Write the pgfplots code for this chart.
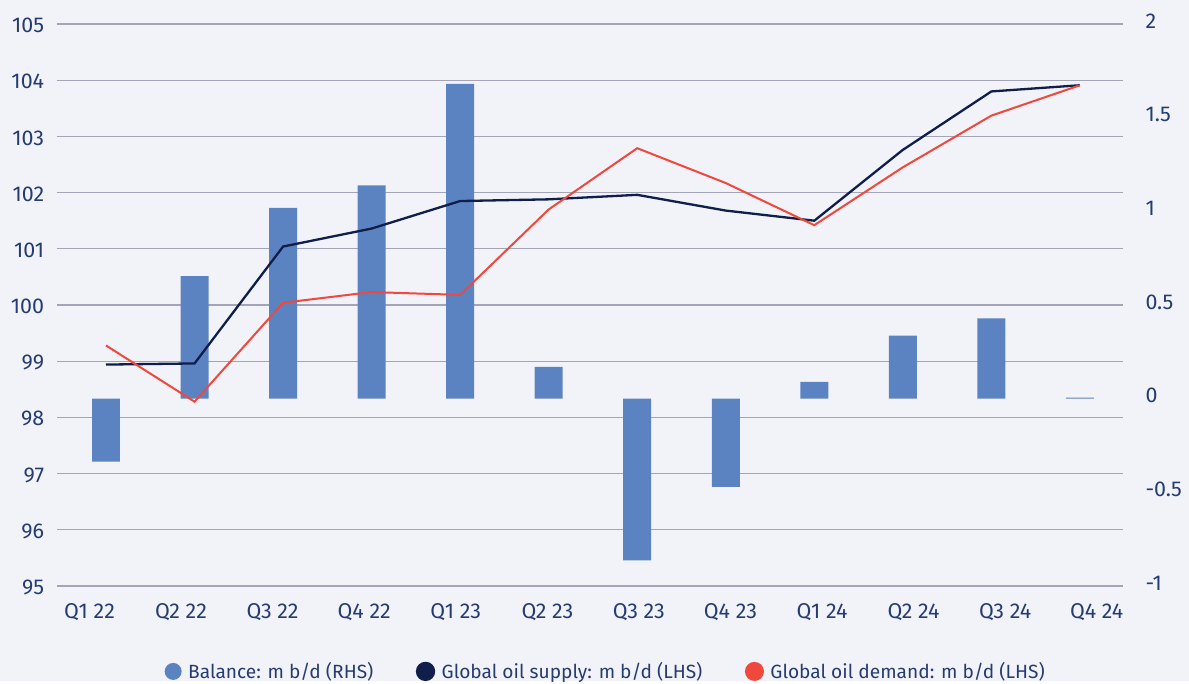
\documentclass[border=0pt]{standalone}
\usepackage{fontspec}
\setmainfont{Fira Sans}
\usepackage{pgfplots}
\pgfplotsset{compat=1.18}
\definecolor{bg}{RGB}{242,243,248}
\definecolor{gridc}{RGB}{163,165,182}
\definecolor{txt}{RGB}{37,60,113}
\definecolor{barblue}{RGB}{92,131,193}
\definecolor{navy}{RGB}{15,30,75}
\definecolor{oilred}{RGB}{240,72,60}
\pgfplotsset{
  base/.style={
    scale only axis, width=1066bp, height=562bp,
    xmin=-0.55, xmax=11.49,
    axis line style={draw=none},
    major tick length=0pt,
    tick label style={font=\fontsize{21.5}{25}\selectfont, text=txt},
  }
}
\begin{document}
\begin{tikzpicture}
\fill[bg] (-57.3bp,-95bp) rectangle (1131.7bp,586bp);
% axis 1: grid, left labels, category labels
\begin{axis}[base,
  ymin=95, ymax=105, ytick={95,96,...,105},
  ymajorgrids, grid style={gridc, line width=1.2bp},
  yticklabel style={anchor=east, inner sep=0pt, xshift=-13bp, yshift=-1.5bp},
  xtick={-0.186,0.848,1.882,2.916,3.950,4.985,6.019,7.053,8.087,9.121,10.155,11.189},
  xticklabels={Q1 22,Q2 22,Q3 22,Q4 22,Q1 23,Q2 23,Q3 23,Q4 23,Q1 24,Q2 24,Q3 24,Q4 24},
  xticklabel style={anchor=north, inner sep=0pt, yshift=-17.5bp},
  /pgf/number format/assume math mode=true]
\end{axis}
% axis 2: balance bars (RHS)
\begin{axis}[base,
  ymin=-1, ymax=2, ytick={-1,-0.5,0,0.5,1,1.5,2},
  yticklabels={-1,-0.5,0,0.5,1,1.5,2},
  yticklabel pos=right,
  yticklabel style={anchor=west, inner sep=0pt, xshift=22bp, yshift=3bp},
  xtick=\empty]
\addplot[ybar, bar width=0.316, bar shift=0pt, fill=barblue, draw=none] coordinates {
  (0,-0.336) (1,0.654) (2,1.019) (3,1.138) (4,1.680) (5,0.170)
  (6,-0.863) (7,-0.471) (8,0.090) (9,0.337) (10,0.428) (11,0.005)};
\end{axis}
% axis 3: supply and demand (LHS) + legend
\begin{axis}[base,
  ymin=95, ymax=105, xtick=\empty, ytick=\empty,
  legend columns=3,
  legend image code/.code={\fill (8.5bp,0bp) circle (8.5bp);},
  legend style={at={(0.5166,-0.152)}, anchor=center, draw=none, fill=none,
    font=\fontsize{19.2}{23}\selectfont, text=txt,
    nodes={inner xsep=6.5bp, inner ysep=0pt},
    /tikz/every even column/.append style={column sep=36bp}},
  legend cell align=left]
\addlegendimage{fill=barblue, draw=none}
\addlegendentry{Balance: m b/d (RHS)}
\addplot[navy, line width=2.3bp] coordinates {
  (0,98.94) (1,98.96) (2,101.04) (3,101.36) (4,101.85) (5,101.88)
  (6,101.96) (7,101.68) (8,101.50) (9,102.76) (10,103.80) (11,103.91)};
\addlegendentry{Global oil supply: m b/d (LHS)}
\addplot[oilred, line width=2bp] coordinates {
  (0,99.28) (1,98.28) (2,100.04) (3,100.23) (4,100.18) (5,101.70)
  (6,102.79) (7,102.17) (8,101.42) (9,102.45) (10,103.37) (11,103.91)};
\addlegendentry{Global oil demand: m b/d (LHS)}
\end{axis}
\end{tikzpicture}
\end{document}
